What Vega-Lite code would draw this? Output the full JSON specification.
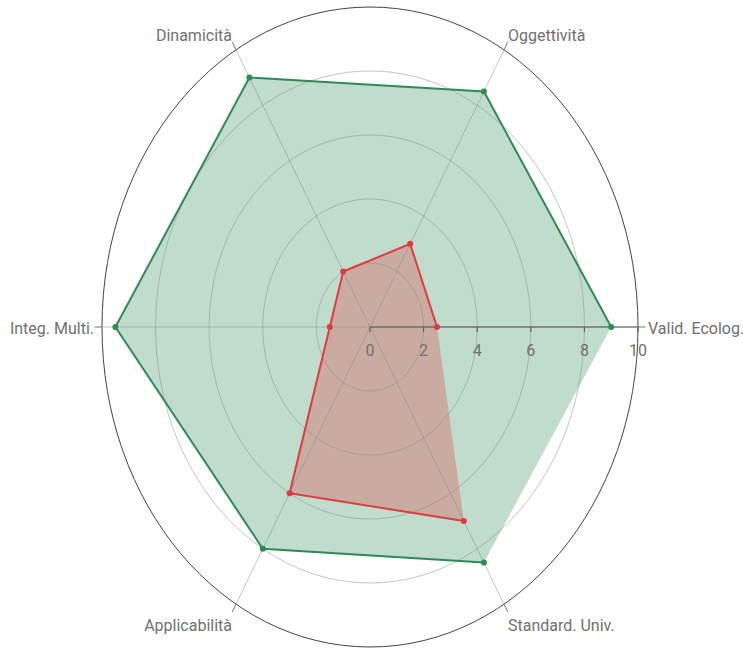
{
  "$schema": "https://vega.github.io/schema/vega-lite/v6.json",
  "width": 536,
  "height": 640,
  "autosize": {"type": "none"},
  "padding": {"left": 102, "top": 7, "right": 105, "bottom": 3},
  "background": "white",
  "config": {"view": {"stroke": null}, "font": "Roboto"},
  "datasets": {
    "scores": [
      {"cat": "Valid. Ecolog.", "idx": 0, "series": "A", "r": 9},
      {"cat": "Oggettività", "idx": 1, "series": "A", "r": 8.5},
      {"cat": "Dinamicità", "idx": 2, "series": "A", "r": 9},
      {"cat": "Integ. Multi.", "idx": 3, "series": "A", "r": 9.5},
      {"cat": "Applicabilità", "idx": 4, "series": "A", "r": 8},
      {"cat": "Standard. Univ.", "idx": 5, "series": "A", "r": 8.5},
      {"cat": "Valid. Ecolog.", "idx": 0, "series": "B", "r": 2.5},
      {"cat": "Oggettività", "idx": 1, "series": "B", "r": 3},
      {"cat": "Dinamicità", "idx": 2, "series": "B", "r": 2},
      {"cat": "Integ. Multi.", "idx": 3, "series": "B", "r": 1.5},
      {"cat": "Applicabilità", "idx": 4, "series": "B", "r": 6},
      {"cat": "Standard. Univ.", "idx": 5, "series": "B", "r": 7}
    ],
    "cats": [
      {"cat": "Valid. Ecolog.", "idx": 0},
      {"cat": "Oggettività", "idx": 1},
      {"cat": "Dinamicità", "idx": 2},
      {"cat": "Integ. Multi.", "idx": 3},
      {"cat": "Applicabilità", "idx": 4},
      {"cat": "Standard. Univ.", "idx": 5}
    ],
    "rings": [{"r": 2}, {"r": 4}, {"r": 6}, {"r": 8}],
    "outer": [{"r": 10}],
    "ticks": [{"r": 0}, {"r": 2}, {"r": 4}, {"r": 6}, {"r": 8}, {"r": 10}]
  },
  "encoding": {
    "x": {"field": "x", "type": "quantitative", "scale": {"domain": [-10, 10], "nice": false, "zero": false}, "axis": null},
    "y": {"field": "y", "type": "quantitative", "scale": {"domain": [-10, 10], "nice": false, "zero": false}, "axis": null}
  },
  "layer": [
    {
      "data": {"name": "scores"},
      "transform": [
        {"filter": "datum.series === 'A'"},
        {"calculate": "datum.idx * PI / 3", "as": "a"},
        {"calculate": "datum.r * cos(datum.a)", "as": "x"},
        {"calculate": "datum.r * sin(datum.a)", "as": "y"}
      ],
      "mark": {"type": "line", "interpolate": "linear-closed", "fill": "#2e8b57", "fillOpacity": 0.3, "strokeWidth": 0, "stroke": null},
      "encoding": {"order": {"field": "idx", "type": "quantitative"}}
    },
    {
      "data": {"name": "scores"},
      "transform": [
        {"filter": "datum.series === 'B'"},
        {"calculate": "datum.idx * PI / 3", "as": "a"},
        {"calculate": "datum.r * cos(datum.a)", "as": "x"},
        {"calculate": "datum.r * sin(datum.a)", "as": "y"}
      ],
      "mark": {"type": "line", "interpolate": "linear-closed", "fill": "#e03c3f", "fillOpacity": 0.3, "strokeWidth": 0, "stroke": null},
      "encoding": {"order": {"field": "idx", "type": "quantitative"}}
    },
    {
      "data": {"name": "rings"},
      "transform": [{"calculate": "0", "as": "x"}, {"calculate": "0", "as": "y"}],
      "mark": {"type": "point", "filled": false, "shape": "M1,0C1,0.6594,0.5523,1.194,0,1.194C-0.5523,1.194,-1,0.6594,-1,0C-1,-0.6594,-0.5523,-1.194,0,-1.194C0.5523,-1.194,1,-0.6594,1,0Z", "stroke": "#8c8c8c", "strokeOpacity": 0.5, "strokeWidth": 1, "opacity": 1},
      "encoding": {
        "size": {"field": "r", "type": "quantitative", "scale": {"type": "pow", "exponent": 2, "domain": [0, 10], "range": [0, 287296]}, "legend": null}
      }
    },
    {
      "data": {"name": "outer"},
      "transform": [{"calculate": "0", "as": "x"}, {"calculate": "0", "as": "y"}],
      "mark": {"type": "point", "filled": false, "shape": "M1,0C1,0.6594,0.5523,1.194,0,1.194C-0.5523,1.194,-1,0.6594,-1,0C-1,-0.6594,-0.5523,-1.194,0,-1.194C0.5523,-1.194,1,-0.6594,1,0Z", "stroke": "#444444", "strokeWidth": 1, "opacity": 1},
      "encoding": {
        "size": {"field": "r", "type": "quantitative", "scale": {"type": "pow", "exponent": 2, "domain": [0, 10], "range": [0, 287296]}, "legend": null}
      }
    },
    {
      "data": {"name": "cats"},
      "transform": [
        {"calculate": "datum.idx * PI / 3", "as": "a"},
        {"calculate": "0", "as": "x"},
        {"calculate": "0", "as": "y"},
        {"calculate": "10 * cos(datum.a)", "as": "ex"},
        {"calculate": "10 * sin(datum.a)", "as": "ey"}
      ],
      "mark": {"type": "rule", "stroke": "#8c8c8c", "strokeOpacity": 0.5, "strokeWidth": 1},
      "encoding": {
        "x2": {"field": "ex"},
        "y2": {"field": "ey"}
      }
    },
    {
      "data": {"name": "cats"},
      "transform": [
        {"calculate": "datum.idx * PI / 3", "as": "a"},
        {"calculate": "10 * cos(datum.a)", "as": "x"},
        {"calculate": "10 * sin(datum.a)", "as": "y"},
        {"calculate": "10.28 * cos(datum.a)", "as": "x2"},
        {"calculate": "10.28 * sin(datum.a)", "as": "y2"}
      ],
      "mark": {"type": "rule", "stroke": "#777777", "strokeWidth": 1},
      "encoding": {
        "x2": {"field": "x2"},
        "y2": {"field": "y2"}
      }
    },
    {
      "data": {"name": "outer"},
      "transform": [{"calculate": "0", "as": "x"}, {"calculate": "0", "as": "y"}],
      "mark": {"type": "rule", "stroke": "#555555", "strokeWidth": 1.2},
      "encoding": {
        "x2": {"field": "r"}
      }
    },
    {
      "data": {"name": "ticks"},
      "transform": [{"calculate": "datum.r", "as": "x"}, {"calculate": "0", "as": "y"}, {"calculate": "-0.16", "as": "y2"}],
      "mark": {"type": "rule", "stroke": "#555555", "strokeWidth": 1},
      "encoding": {
        "y2": {"field": "y2"}
      }
    },
    {
      "data": {"name": "ticks"},
      "transform": [{"calculate": "datum.r", "as": "x"}, {"calculate": "0", "as": "y"}],
      "mark": {"type": "text", "align": "center", "baseline": "alphabetic", "dy": 29, "fontSize": 16, "fill": "#707070"},
      "encoding": {
        "text": {"field": "r", "type": "quantitative"}
      }
    },
    {
      "data": {"name": "scores"},
      "transform": [
        {"calculate": "datum.idx * PI / 3", "as": "a"},
        {"calculate": "datum.r * cos(datum.a)", "as": "x"},
        {"calculate": "datum.r * sin(datum.a)", "as": "y"}
      ],
      "mark": {"type": "line", "interpolate": "linear", "strokeWidth": 2},
      "encoding": {
        "color": {"field": "series", "type": "nominal", "scale": {"domain": ["A", "B"], "range": ["#2e8b57", "#e03c3f"]}, "legend": null},
        "order": {"field": "idx", "type": "quantitative"}
      }
    },
    {
      "data": {"name": "scores"},
      "transform": [
        {"calculate": "datum.idx * PI / 3", "as": "a"},
        {"calculate": "datum.r * cos(datum.a)", "as": "x"},
        {"calculate": "datum.r * sin(datum.a)", "as": "y"}
      ],
      "mark": {"type": "point", "filled": true, "size": 36, "opacity": 1},
      "encoding": {
        "color": {"field": "series", "type": "nominal", "scale": {"domain": ["A", "B"], "range": ["#2e8b57", "#e03c3f"]}, "legend": null}
      }
    },
    {
      "data": {"name": "cats"},
      "transform": [
        {"filter": "datum.idx === 0"},
        {"calculate": "10", "as": "x"},
        {"calculate": "0", "as": "y"}
      ],
      "mark": {"type": "text", "align": "left", "baseline": "alphabetic", "dx": 10, "dy": 7, "fontSize": 16, "fill": "#707070"},
      "encoding": {"text": {"field": "cat"}}
    },
    {
      "data": {"name": "cats"},
      "transform": [
        {"filter": "datum.idx === 3"},
        {"calculate": "-10", "as": "x"},
        {"calculate": "0", "as": "y"}
      ],
      "mark": {"type": "text", "align": "right", "baseline": "alphabetic", "dx": -8, "dy": 7, "fontSize": 16, "fill": "#707070"},
      "encoding": {"text": {"field": "cat"}}
    },
    {
      "data": {"name": "cats"},
      "transform": [
        {"filter": "datum.idx === 1"},
        {"calculate": "datum.idx * PI / 3", "as": "a"},
        {"calculate": "10 * cos(datum.a)", "as": "x"},
        {"calculate": "10 * sin(datum.a)", "as": "y"}
      ],
      "mark": {"type": "text", "align": "left", "baseline": "alphabetic", "dx": 4, "dy": -9, "fontSize": 16, "fill": "#707070"},
      "encoding": {"text": {"field": "cat"}}
    },
    {
      "data": {"name": "cats"},
      "transform": [
        {"filter": "datum.idx === 2"},
        {"calculate": "datum.idx * PI / 3", "as": "a"},
        {"calculate": "10 * cos(datum.a)", "as": "x"},
        {"calculate": "10 * sin(datum.a)", "as": "y"}
      ],
      "mark": {"type": "text", "align": "right", "baseline": "alphabetic", "dx": -4, "dy": -9, "fontSize": 16, "fill": "#707070"},
      "encoding": {"text": {"field": "cat"}}
    },
    {
      "data": {"name": "cats"},
      "transform": [
        {"filter": "datum.idx === 4"},
        {"calculate": "datum.idx * PI / 3", "as": "a"},
        {"calculate": "10 * cos(datum.a)", "as": "x"},
        {"calculate": "10 * sin(datum.a)", "as": "y"}
      ],
      "mark": {"type": "text", "align": "right", "baseline": "alphabetic", "dx": -4, "dy": 27, "fontSize": 16, "fill": "#707070"},
      "encoding": {"text": {"field": "cat"}}
    },
    {
      "data": {"name": "cats"},
      "transform": [
        {"filter": "datum.idx === 5"},
        {"calculate": "datum.idx * PI / 3", "as": "a"},
        {"calculate": "10 * cos(datum.a)", "as": "x"},
        {"calculate": "10 * sin(datum.a)", "as": "y"}
      ],
      "mark": {"type": "text", "align": "left", "baseline": "alphabetic", "dx": 4, "dy": 27, "fontSize": 16, "fill": "#707070"},
      "encoding": {"text": {"field": "cat"}}
    }
  ]
}
